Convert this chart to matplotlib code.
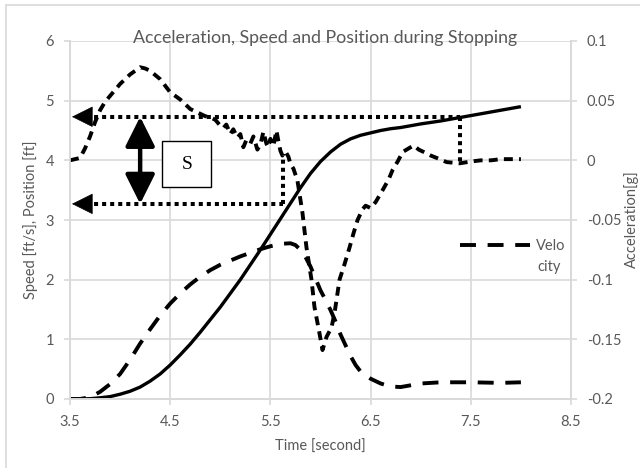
import matplotlib

matplotlib.use("Agg")
import matplotlib.pyplot as plt
from matplotlib.lines import Line2D
from matplotlib.patches import Rectangle

# position [ft], solid line, left axis
POS_T = [3.5, 3.6, 3.7, 3.8, 3.9, 4.0, 4.1, 4.2, 4.3, 4.4, 4.5, 4.6, 4.7, 4.8,
         4.9, 5.0, 5.1, 5.2, 5.3, 5.4, 5.5, 5.6, 5.7, 5.8, 5.9, 6.0, 6.1, 6.2,
         6.3, 6.4, 6.5, 6.6, 6.7, 6.8, 6.9, 7.0, 7.2, 7.4, 7.6, 7.8, 8.0]
POS = [0.0, 0.0, 0.005, 0.02, 0.04, 0.08, 0.13, 0.2, 0.3, 0.42, 0.57, 0.74,
       0.92, 1.12, 1.33, 1.54, 1.77, 2.0, 2.25, 2.5, 2.76, 3.02, 3.28, 3.54,
       3.78, 3.98, 4.14, 4.27, 4.36, 4.42, 4.46, 4.5, 4.53, 4.55, 4.58, 4.61,
       4.66, 4.72, 4.78, 4.84, 4.9]

# velocity [ft/s], long dashes, left axis
VEL_T = [3.5, 3.6, 3.7, 3.8, 3.9, 4.0, 4.1, 4.2, 4.3, 4.4, 4.5, 4.6, 4.7, 4.8,
         4.9, 5.0, 5.1, 5.2, 5.3, 5.4, 5.5, 5.6, 5.7, 5.75, 5.8, 5.85, 5.9,
         5.95, 6.0, 6.05, 6.1, 6.15, 6.2, 6.25, 6.3, 6.35, 6.4, 6.5, 6.6, 6.7,
         6.8, 6.9, 7.0, 7.2, 7.5, 7.8, 8.0]
VEL = [0.0, 0.0, 0.03, 0.12, 0.25, 0.42, 0.66, 0.93, 1.17, 1.4, 1.6, 1.77,
       1.92, 2.05, 2.16, 2.25, 2.32, 2.39, 2.45, 2.51, 2.56, 2.6, 2.61, 2.58,
       2.5, 2.38, 2.22, 2.02, 1.82, 1.66, 1.49, 1.3, 1.08, 0.9, 0.72, 0.57,
       0.46, 0.34, 0.26, 0.21, 0.2, 0.23, 0.26, 0.28, 0.28, 0.27, 0.28]

# acceleration [g], short dashes, right axis
ACC_T = [3.5, 3.6, 3.65, 3.7, 3.75, 3.8, 3.85, 3.9, 4.0, 4.1, 4.2, 4.25, 4.3,
         4.4, 4.5, 4.6, 4.7, 4.75, 4.8, 4.85, 4.9, 4.95, 5.0, 5.03, 5.06, 5.1,
         5.13, 5.17, 5.2, 5.23, 5.26, 5.3, 5.33, 5.37, 5.4, 5.43, 5.46, 5.48,
         5.5, 5.53, 5.56, 5.58, 5.6, 5.62, 5.64, 5.66, 5.68, 5.7, 5.73, 5.77,
         5.82, 5.86, 5.91, 5.94, 5.99, 6.02, 6.06, 6.11, 6.14, 6.19, 6.24,
         6.29, 6.33, 6.37, 6.42, 6.45, 6.5, 6.55, 6.62, 6.68, 6.72, 6.77, 6.82,
         6.88, 6.93, 6.98, 7.03, 7.1, 7.16, 7.26, 7.39, 7.5, 7.6, 7.7, 7.8, 8.0]
ACC = [0.0, 0.002, 0.01, 0.02, 0.032, 0.042, 0.049, 0.054, 0.064, 0.072,
       0.078, 0.077, 0.075, 0.068, 0.057, 0.051, 0.043, 0.041, 0.039, 0.037,
       0.036, 0.034, 0.029, 0.027, 0.03, 0.022, 0.026, 0.019, 0.022, 0.011,
       0.017, 0.014, 0.02, 0.009, 0.013, 0.024, 0.014, 0.011, 0.018, 0.012,
       0.025, 0.016, 0.008, 0.004, 0.007, 0.006, 0.003, -0.003, -0.007,
       -0.017, -0.044, -0.073, -0.1, -0.123, -0.145, -0.159, -0.148, -0.14,
       -0.128, -0.1, -0.087, -0.073, -0.061, -0.05, -0.041, -0.038, -0.04,
       -0.035, -0.025, -0.016, -0.008, -0.001, 0.007, 0.01, 0.0125, 0.009,
       0.007, 0.004, 0.002, -0.0015, -0.0025, -0.001, 0.0, 0.0, 0.001, 0.001]

X_TICKS = [3.5, 4.5, 5.5, 6.5, 7.5, 8.5]
Y_TICKS = [0, 1, 2, 3, 4, 5, 6]
ACC_TICKS = [-0.2, -0.15, -0.1, -0.05, 0, 0.05, 0.1]
ACC_LABELS = ["-0.2", "-0.15", "-0.1", "-0.05", "0", "0.05", "0.1"]

# stopping-distance markers (time [s], position [ft])
S_TOP, S_BOTTOM = 4.73, 3.27
T_STOP_START, T_STOP_END = 5.63, 7.39
ACC_AT_START, ACC_AT_END = 4.1, 3.96   # where the dotted drops meet the accel curve
S_ARROW_T = 4.2
S_BOX = (4.42, 3.55, 0.49, 0.77)

GRAY_TXT = "#595959"
GRID = "#d9d9d9"
FS = 10.5

plt.rcParams["font.family"] = ["Lato", "DejaVu Sans"]
plt.rcParams["font.size"] = FS

fig = plt.figure(figsize=(6.4, 4.68), dpi=100)
ax = fig.add_axes([70 / 640, 69 / 468, 501 / 640, 358 / 468])
ax2 = ax.twinx()

# chart-area frame (only top and left edge fall inside the picture)
fig.add_artist(Line2D([6 / 640, 1], [1 - 5 / 468] * 2, color=GRID, lw=1.2))
fig.add_artist(Line2D([6 / 640] * 2, [0, 1 - 5 / 468], color=GRID, lw=1.2))

ax.set_xlim(3.5, 8.5)
ax.set_ylim(0, 6)
ax2.set_ylim(-0.2, 0.1)
ax.set_xticks(X_TICKS)
ax.set_xticklabels([f"{v:g}" for v in X_TICKS])
ax.set_yticks(Y_TICKS)
ax2.set_yticks(ACC_TICKS)
ax2.set_yticklabels(ACC_LABELS)
ax.grid(True, color=GRID, lw=1.2)
ax.set_axisbelow(True)

for a in (ax, ax2):
    a.spines["top"].set_visible(False)
    for side in ("left", "right", "bottom"):
        a.spines[side].set_color(GRID)
        a.spines[side].set_linewidth(1.2)
    a.tick_params(colors=GRID, labelcolor=GRAY_TXT, length=4, width=1.2,
                  pad=7.5, labelsize=FS)

ax.plot(POS_T, POS, color="black", lw=2.4, solid_capstyle="butt")
vel_line, = ax.plot(VEL_T, VEL, color="black", lw=2.8, dashes=(4.1, 3.0))
ax2.plot(ACC_T, ACC, color="black", lw=2.8, dashes=(2.3, 1.6))

# dotted guide lines for the stopping distance
dot = dict(color="black", lw=2.9, dashes=(1, 1))
ax.plot([3.66, T_STOP_END], [S_TOP, S_TOP], **dot)
ax.plot([T_STOP_END, T_STOP_END], [S_TOP, ACC_AT_END], **dot)
ax.plot([3.66, T_STOP_START], [S_BOTTOM, S_BOTTOM], **dot)
ax.plot([T_STOP_START, T_STOP_START], [S_BOTTOM, ACC_AT_START], **dot)
for yv in (S_TOP, S_BOTTOM):
    ax.annotate("", xy=(3.52, yv), xytext=(3.66, yv),
                arrowprops=dict(arrowstyle="-|>,head_length=0.7,head_width=0.35",
                                mutation_scale=20, fc="black", ec="black",
                                lw=0.5, shrinkA=0, shrinkB=0))

ax.annotate("", xy=(S_ARROW_T, S_TOP), xytext=(S_ARROW_T, S_BOTTOM),
            arrowprops=dict(arrowstyle="<|-|>,head_length=0.9,head_width=0.45",
                            mutation_scale=20, fc="black", ec="black",
                            lw=3.2, shrinkA=0, shrinkB=0))

bx, by, bw, bh = S_BOX
ax.add_patch(Rectangle((bx, by), bw, bh, facecolor="white", edgecolor="black",
                       lw=1.0, zorder=4))
ax.text(bx + bw / 2, by + bh / 2, "S", ha="center", va="center", zorder=5,
        fontsize=14, family="Liberation Serif")

fig.text(325 / 640, 1 - 37.5 / 468,
         "Acceleration, Speed and Position during Stopping",
         ha="center", va="center", color=GRAY_TXT, fontsize=12.8)

ax.set_xlabel("Time [second]", color=GRAY_TXT, fontsize=FS)
ax.xaxis.set_label_coords(0.499, -0.115)
ax.set_ylabel("Speed [ft/s], Position [ft]", color=GRAY_TXT, fontsize=FS)
ax.yaxis.set_label_coords(-0.064, 0.5)
ax2.set_ylabel("Acceleration[g]", color=GRAY_TXT, fontsize=FS)
ax2.yaxis.set_label_coords(1.106, 0.503)

leg = ax.legend([vel_line], ["Velo"], loc="upper left",
                bbox_to_anchor=(0.778, 0.447), frameon=False, borderpad=0,
                borderaxespad=0, handlelength=4.8, handletextpad=0.4,
                labelcolor=GRAY_TXT, fontsize=FS)
# the legend label wraps onto a second line in the original
ax.text(0.932, 0.369, "city", transform=ax.transAxes, ha="left", va="center",
        color=GRAY_TXT, fontsize=FS)

fig.savefig("out.png", dpi=100)
